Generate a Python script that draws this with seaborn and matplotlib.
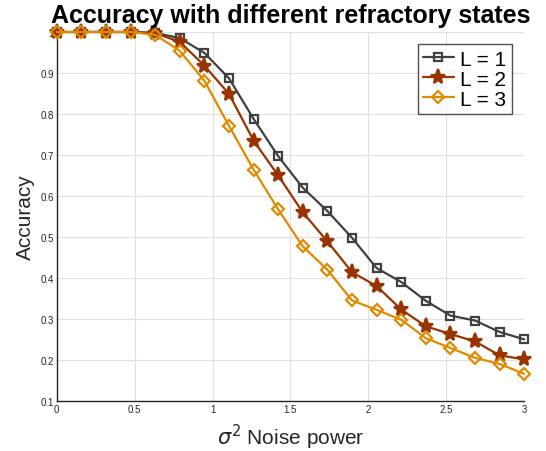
import numpy as np
import pandas as pd
import matplotlib
matplotlib.use('Agg')
import matplotlib.pyplot as plt
import seaborn as sns

# Adatok
zaj = np.linspace(0, 3, 20)
pontossag_L1 = [1.0, 1.0, 1.0, 1.0, 0.998, 0.985, 0.949, 0.887, 0.788, 0.697,
                0.620, 0.563, 0.498, 0.424, 0.390, 0.344, 0.308, 0.296, 0.268, 0.250]
pontossag_L2 = [1.0, 1.0, 1.0, 1.0, 0.997, 0.976, 0.918, 0.849, 0.735, 0.650,
                0.560, 0.489, 0.414, 0.380, 0.323, 0.282, 0.263, 0.245, 0.211, 0.201]
pontossag_L3 = [1.0, 1.0, 1.0, 1.0, 0.993, 0.954, 0.881, 0.771, 0.664, 0.567,
                0.477, 0.420, 0.345, 0.322, 0.298, 0.253, 0.229, 0.205, 0.190, 0.166]
cimkek = ['L = 1', 'L = 2', 'L = 3']

sns.set_style('whitegrid')
plt.rcParams['font.family'] = ['Liberation Sans', 'DejaVu Sans']

fig = plt.figure(figsize=(5.46, 4.52), dpi=100)
ax = fig.add_axes([0.104, 0.111, 0.856, 0.816])

szinek = ['#404040', '#993300', '#e08a00']
jelolok = ['s', '*', 'D']
meretek = [6, 11, 6]
for adat, cimke, szin, jelolo, meret in zip([pontossag_L1, pontossag_L2, pontossag_L3],
                                             cimkek, szinek, jelolok, meretek):
    arc = szin if jelolo == '*' else 'none'
    sns.lineplot(x=zaj, y=adat, ax=ax, color=szin, marker=jelolo, markersize=meret,
                 markerfacecolor=arc, markeredgecolor=szin, markeredgewidth=1.6,
                 linewidth=1.6, label=cimke, clip_on=False, zorder=3)

ax.set_xlim(0, 3)
ax.set_ylim(0.1, 1)
ax.set_xticks(np.arange(0, 3.01, 0.5))
ax.set_xticklabels(['0', '0.5', '1', '1.5', '2', '2.5', '3'])
ax.set_yticks(np.arange(0.1, 1.01, 0.1))
ax.set_yticklabels(['0.1', '0.2', '0.3', '0.4', '0.5', '0.6', '0.7', '0.8', '0.9', '1'])
ax.tick_params(axis='both', labelsize=7, colors='#262626', direction='in', length=3, pad=2)
ax.grid(True, color='#e0e0e0', linewidth=0.8)
for oldal in ['top', 'right']:
    ax.spines[oldal].set_visible(False)
for oldal in ['left', 'bottom']:
    ax.spines[oldal].set_color('#262626')
    ax.spines[oldal].set_linewidth(1.0)

ax.set_xlabel(r'$\sigma^2$ Noise power', fontsize=15, color='#262626', labelpad=6)
ax.set_ylabel('Accuracy', fontsize=15, color='#262626', labelpad=4)
ax.set_title('Accuracy with different refractory states', fontsize=18, fontweight='bold',
             pad=7, color='black')

leg = ax.legend(loc='upper right', fontsize=15, frameon=True, fancybox=False,
                handlelength=1.5, handletextpad=0.3, borderpad=0.25, labelspacing=0.05,
                borderaxespad=0.6, labelcolor='black')
leg.get_frame().set_edgecolor('#262626')
leg.get_frame().set_linewidth(1.0)

fig.savefig('out.png', dpi=100)
